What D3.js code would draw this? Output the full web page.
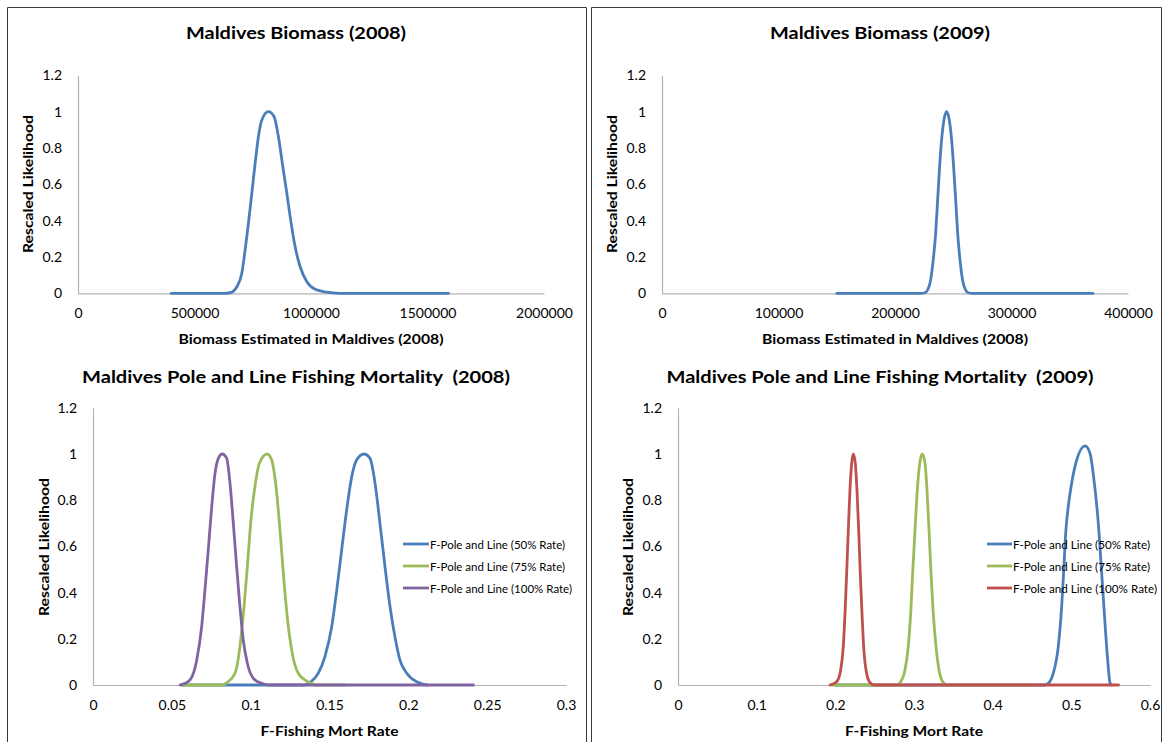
<!DOCTYPE html>
<html>
<head>
<meta charset="utf-8">
<script src="https://cdn.jsdelivr.net/npm/d3@7"></script>
<style>
  body { margin: 0; background: #fff; }
  svg { display: block; }
  text { font-family: Lato, "Open Sans", sans-serif; fill: #000; white-space: pre; }
</style>
</head>
<body>
<svg id="chart" width="1165" height="742"></svg>
<script>
// ---------- shared axis values ----------
const yTicks = [0, 0.2, 0.4, 0.6, 0.8, 1, 1.2];
const yTickLabels = ["0", "0.2", "0.4", "0.6", "0.8", "1", "1.2"];

const biomassTicks2008 = [0, 500000, 1000000, 1500000, 2000000];
const biomassTickLabels2008 = ["0", "500000", "1000000", "1500000", "2000000"];
const biomassTicks2009 = [0, 100000, 200000, 300000, 400000];
const biomassTickLabels2009 = ["0", "100000", "200000", "300000", "400000"];
const mortTicks2008 = [0, 0.05, 0.1, 0.15, 0.2, 0.25, 0.3];
const mortTickLabels2008 = ["0", "0.05", "0.1", "0.15", "0.2", "0.25", "0.3"];
const mortTicks2009 = [0, 0.1, 0.2, 0.3, 0.4, 0.5, 0.6];
const mortTickLabels2009 = ["0", "0.1", "0.2", "0.3", "0.4", "0.5", "0.6"];

const seriesNames = ["F-Pole and Line (50% Rate)", "F-Pole and Line (75% Rate)", "F-Pole and Line (100% Rate)"];

// ---------- biomass likelihood profiles ----------
const biomass2008X = [400000, 625000, 652800, 681600, 703000, 717200, 731400, 746000, 760200, 774300, 788900,
  817300, 841700, 860200, 879100, 896300, 910500, 929000, 953400, 982200, 1017800, 1068100, 1120000, 1590000];
const biomass2008Y = [0, 0, 0.003, 0.036, 0.110, 0.238, 0.385, 0.550, 0.715, 0.862, 0.954,
  1.0, 0.972, 0.862, 0.697, 0.550, 0.422, 0.275, 0.146, 0.064, 0.022, 0.006, 0, 0];

const biomass2009X = [150000, 222000, 225700, 230000, 232800, 234900, 236600, 238300, 240000, 242000, 244300,
  246600, 248600, 250300, 252100, 253800, 255800, 258600, 262900, 267000, 370000];
const biomass2009Y = [0, 0, 0.003, 0.055, 0.183, 0.330, 0.513, 0.697, 0.844, 0.954, 1.0,
  0.954, 0.844, 0.697, 0.513, 0.330, 0.183, 0.055, 0.003, 0, 0];

// ---------- fishing mortality likelihood profiles, 2008 ----------
const mort2008Rate50X = [0.056, 0.134, 0.1376, 0.1429, 0.1471, 0.1514, 0.1546, 0.1577, 0.1609, 0.1641, 0.1672,
  0.1719, 0.1757, 0.1789, 0.1820, 0.1852, 0.1884, 0.1915, 0.1947, 0.1990, 0.2053, 0.2095, 0.212];
const mort2008Rate50Y = [0, 0, 0.010, 0.051, 0.123, 0.252, 0.411, 0.584, 0.758, 0.902, 0.974,
  1.0, 0.981, 0.873, 0.700, 0.512, 0.339, 0.209, 0.108, 0.051, 0.014, 0.003, 0];

const mort2008Rate75X = [0.056, 0.082, 0.0848, 0.0901, 0.0932, 0.0958, 0.0979, 0.1000, 0.1027, 0.1055, 0.1105,
  0.1133, 0.1161, 0.1186, 0.1207, 0.1232, 0.1260, 0.1302, 0.1376, 0.141, 0.16];
const mort2008Rate75Y = [0, 0, 0.010, 0.051, 0.166, 0.339, 0.512, 0.700, 0.858, 0.960, 1.0,
  0.974, 0.858, 0.671, 0.484, 0.296, 0.152, 0.051, 0.010, 0, 0];

const mort2008Rate100X = [0.0552, 0.0615, 0.0658, 0.0689, 0.0710, 0.0731, 0.0753, 0.0774, 0.0795, 0.0820,
  0.0848, 0.0869, 0.0890, 0.0911, 0.0932, 0.0953, 0.0979, 0.1017, 0.1070, 0.112, 0.2413];
const mort2008Rate100Y = [0, 0.022, 0.108, 0.252, 0.411, 0.584, 0.772, 0.916, 0.981, 1.0,
  0.981, 0.873, 0.700, 0.512, 0.339, 0.195, 0.094, 0.029, 0.007, 0, 0];

// ---------- fishing mortality likelihood profiles, 2009 ----------
const mort2009Rate50X = [0.200, 0.466, 0.4707, 0.4770, 0.4834, 0.4877, 0.4906, 0.4928, 0.4961, 0.5004, 0.5068,
  0.5174, 0.5237, 0.5288, 0.5343, 0.5386, 0.5428, 0.5462, 0.5491, 0.551];
const mort2009Rate50Y = [0, 0, 0.007, 0.05, 0.166, 0.339, 0.512, 0.657, 0.772, 0.873, 0.974,
  1.035, 1.003, 0.887, 0.70, 0.484, 0.267, 0.108, 0.01, 0];

const mort2009Rate75X = [0.195, 0.278, 0.2822, 0.2885, 0.2927, 0.2958, 0.2983, 0.3013, 0.3042, 0.3073, 0.3105,
  0.3140, 0.3165, 0.3191, 0.3216, 0.3245, 0.3280, 0.3318, 0.3372, 0.342, 0.45];
const mort2009Rate75Y = [0, 0, 0.010, 0.065, 0.166, 0.310, 0.484, 0.671, 0.844, 0.960, 1.0,
  0.960, 0.844, 0.671, 0.484, 0.310, 0.166, 0.065, 0.010, 0, 0];

const mort2009Rate100X = [0.1932, 0.2017, 0.2068, 0.2101, 0.2123, 0.2144, 0.2165, 0.2186, 0.2208, 0.2228,
  0.2254, 0.2275, 0.2297, 0.2317, 0.2339, 0.2360, 0.2390, 0.2441, 0.249, 0.56];
const mort2009Rate100Y = [0, 0.014, 0.065, 0.166, 0.310, 0.484, 0.671, 0.844, 0.960, 1.0,
  0.960, 0.844, 0.671, 0.484, 0.310, 0.166, 0.065, 0.010, 0, 0];

// ---------- styling ----------
const BLUE = "#4a7ebb", GREEN = "#9bbb59", PURPLE = "#8064a2", RED = "#c0504d";
const AXIS_GREY = "#b3b3b3";

const zip = (xs, ys) => xs.map((x, i) => ({ x, y: ys[i] }));

const panels = [
  {
    title: "Maldives Biomass (2008)", titleX: 296, titleY: 32, titleW: 220,
    xTitle: "Biomass Estimated in Maldives (2008)", xTitleY: 339, xTitleW: 265,
    yTitleX: 28, yTitleY: 184,
    left: 78, right: 544, top: 75.3, bottom: 293.3,
    xDomain: [0, 2000000], xTicks: biomassTicks2008, xLabels: biomassTickLabels2008,
    series: [{ data: zip(biomass2008X, biomass2008Y), color: BLUE }]
  },
  {
    title: "Maldives Biomass (2009)", titleX: 880, titleY: 32, titleW: 220,
    xTitle: "Biomass Estimated in Maldives (2008)", xTitleY: 339, xTitleW: 266,
    yTitleX: 612, yTitleY: 184,
    left: 662, right: 1128, top: 75.3, bottom: 293.3,
    xDomain: [0, 400000], xTicks: biomassTicks2009, xLabels: biomassTickLabels2009,
    series: [{ data: zip(biomass2009X, biomass2009Y), color: BLUE }]
  },
  {
    title: "Maldives Pole and Line Fishing Mortality  (2008)", titleX: 296, titleY: 376.5, titleW: 428,
    xTitle: "F-Fishing Mort Rate", xTitleY: 731, xTitleW: 138,
    yTitleX: 43.5, yTitleY: 547,
    left: 93, right: 566, top: 407.8, bottom: 685,
    xDomain: [0, 0.3], xTicks: mortTicks2008, xLabels: mortTickLabels2008,
    series: [
      { data: zip(mort2008Rate50X, mort2008Rate50Y), color: BLUE, name: seriesNames[0] },
      { data: zip(mort2008Rate75X, mort2008Rate75Y), color: GREEN, name: seriesNames[1] },
      { data: zip(mort2008Rate100X, mort2008Rate100Y), color: PURPLE, name: seriesNames[2] }
    ],
    legend: { lineX0: 403, lineX1: 429, textX: 430, rows: [544, 566, 588], widths: [135, 135, 142] }
  },
  {
    title: "Maldives Pole and Line Fishing Mortality  (2009)", titleX: 880, titleY: 376.5, titleW: 427,
    xTitle: "F-Fishing Mort Rate", xTitleY: 731, xTitleW: 138,
    yTitleX: 628, yTitleY: 547,
    left: 678, right: 1150, top: 407.8, bottom: 685,
    xDomain: [0, 0.6], xTicks: mortTicks2009, xLabels: mortTickLabels2009,
    series: [
      { data: zip(mort2009Rate50X, mort2009Rate50Y), color: BLUE, name: seriesNames[0] },
      { data: zip(mort2009Rate75X, mort2009Rate75Y), color: GREEN, name: seriesNames[1] },
      { data: zip(mort2009Rate100X, mort2009Rate100Y), color: RED, name: seriesNames[2] }
    ],
    legend: { lineX0: 987, lineX1: 1012, textX: 1013, rows: [544, 566, 588], widths: [137, 137, 144] }
  }
];

const svg = d3.select("#chart");

// outer frames of the two columns
const frames = [[7.5, 586.5], [591.5, 1161.5]];
frames.forEach(([x0, x1]) => {
  svg.append("path")
    .attr("d", `M${x0},742 V7.5 H${x1} V742`)
    .attr("fill", "none")
    .attr("stroke", "#3a3a3a")
    .attr("stroke-width", 1);
});

panels.forEach(p => {
  const g = svg.append("g");
  const x = d3.scaleLinear().domain(p.xDomain).range([p.left, p.right]);
  const y = d3.scaleLinear().domain([0, 1.2]).range([p.bottom, p.top]);

  // title
  g.append("text")
    .attr("x", p.titleX).attr("y", p.titleY)
    .attr("text-anchor", "middle").attr("dominant-baseline", "central")
    .attr("font-size", 17).attr("font-weight", "bold")
    .attr("textLength", p.titleW).attr("lengthAdjust", "spacingAndGlyphs")
    .text(p.title);

  // y axis
  const yAxis = d3.axisLeft(y).tickValues(yTicks).tickSize(0).tickPadding(16)
    .tickFormat((d, i) => yTickLabels[i]);
  const ya = g.append("g").attr("transform", `translate(${p.left},0)`).call(yAxis);
  ya.select(".domain").attr("stroke", AXIS_GREY).attr("stroke-width", 1.2);
  ya.selectAll("text").attr("font-size", 14).attr("font-family", "Lato, sans-serif").attr("fill", "#000");

  // x axis
  const xAxis = d3.axisBottom(x).tickValues(p.xTicks).tickSize(0).tickPadding(15)
    .tickFormat((d, i) => p.xLabels[i]);
  const xa = g.append("g").attr("transform", `translate(0,${p.bottom})`).call(xAxis);
  xa.select(".domain").attr("stroke", AXIS_GREY).attr("stroke-width", 1.2);
  xa.selectAll("text").attr("font-size", 14).attr("font-family", "Lato, sans-serif").attr("fill", "#000");

  // axis titles
  g.append("text")
    .attr("x", (p.left + p.right) / 2).attr("y", p.xTitleY)
    .attr("text-anchor", "middle").attr("dominant-baseline", "central")
    .attr("font-size", 13).attr("font-weight", "bold")
    .attr("textLength", p.xTitleW).attr("lengthAdjust", "spacingAndGlyphs")
    .text(p.xTitle);

  g.append("text")
    .attr("transform", `translate(${p.yTitleX},${p.yTitleY}) rotate(-90)`)
    .attr("text-anchor", "middle").attr("dominant-baseline", "central")
    .attr("font-size", 13).attr("font-weight", "bold")
    .attr("textLength", 138).attr("lengthAdjust", "spacingAndGlyphs")
    .text("Rescaled Likelihood");

  // likelihood curves
  const line = d3.line().x(d => x(d.x)).y(d => y(d.y)).curve(d3.curveMonotoneX);
  p.series.forEach(s => {
    g.append("path")
      .datum(s.data)
      .attr("d", line)
      .attr("fill", "none")
      .attr("stroke", s.color)
      .attr("stroke-width", 2.8)
      .attr("stroke-linejoin", "round")
      .attr("stroke-linecap", "round");
  });

  // legend
  if (p.legend) {
    const L = p.legend;
    p.series.forEach((s, i) => {
      g.append("line")
        .attr("x1", L.lineX0).attr("x2", L.lineX1)
        .attr("y1", L.rows[i]).attr("y2", L.rows[i])
        .attr("stroke", s.color).attr("stroke-width", 2.8);
      g.append("text")
        .attr("x", L.textX).attr("y", L.rows[i])
        .attr("dominant-baseline", "central")
        .attr("font-size", 11.5)
        .attr("textLength", L.widths[i]).attr("lengthAdjust", "spacingAndGlyphs")
        .text(s.name);
    });
  }
});
</script>
</body>
</html>
